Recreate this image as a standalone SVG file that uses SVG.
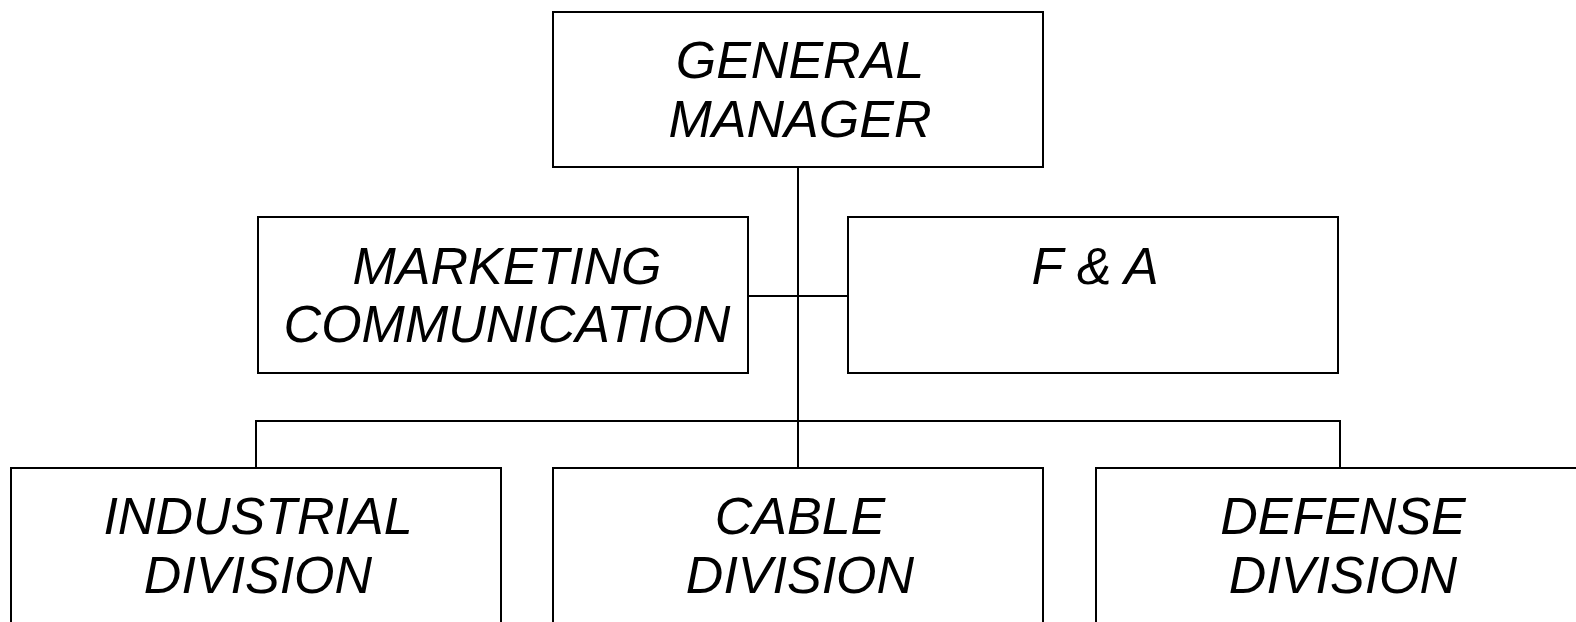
<svg xmlns="http://www.w3.org/2000/svg" width="1576" height="622" viewBox="0 0 1576 622">
<style>
.box{fill:#fff;stroke:#000;stroke-width:2}
.t{font-family:"Liberation Sans",Arial,sans-serif;font-style:italic;font-size:52px;fill:#000;text-anchor:middle}
.c{stroke:#000;stroke-width:2;fill:none}
</style>
<rect width="1576" height="622" fill="#fff"/>
<g id="connectors">
<path class="c" d="M798 168V468"/>
<path class="c" d="M748 296H848"/>
<path class="c" d="M256 468V421H1340V468"/>
</g>
<g id="gm"><rect class="box" x="553" y="12" width="490" height="155"/><text class="t" x="800" y="78">GENERAL</text><text class="t" x="800" y="137">MANAGER</text></g>
<g id="marketing"><rect class="box" x="258" y="217" width="490" height="156"/><text class="t" x="507" y="284">MARKETING</text><text class="t" x="507" y="342">COMMUNICATION</text></g>
<g id="fa"><rect class="box" x="848" y="217" width="490" height="156"/><text class="t" x="1095" y="284">F &amp; A</text></g>
<g id="industrial"><rect class="box" x="11" y="468" width="490" height="170"/><text class="t" x="258" y="534">INDUSTRIAL</text><text class="t" x="258" y="593">DIVISION</text></g>
<g id="cable"><rect class="box" x="553" y="468" width="490" height="170"/><text class="t" x="800" y="534">CABLE</text><text class="t" x="800" y="593">DIVISION</text></g>
<g id="defense"><rect class="box" x="1096" y="468" width="490" height="170"/><text class="t" x="1343" y="534">DEFENSE</text><text class="t" x="1343" y="593">DIVISION</text></g>
</svg>
